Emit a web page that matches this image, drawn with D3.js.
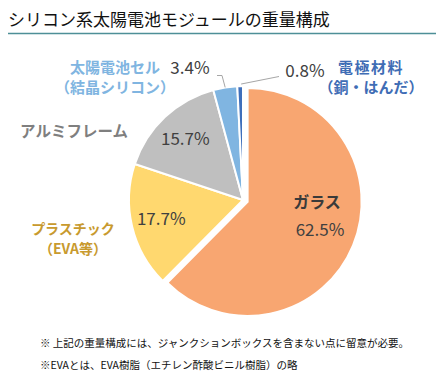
<!DOCTYPE html>
<html>
<head>
<meta charset="utf-8">
<script src="https://cdn.jsdelivr.net/npm/d3@7"></script>
<style>
  html, body { margin: 0; padding: 0; background: #fff; }
  svg { display: block; }
  text { font-family: "Noto Sans CJK JP", "Noto Sans", sans-serif; }
</style>
</head>
<body>
<svg id="chart" width="441" height="378"></svg>
<script>
// 元データ（時計回り、12時から）
const categories = ['ガラス', 'プラスチック（EVA等）', 'アルミフレーム', '太陽電池セル（結晶シリコン）', '電極材料（銅・はんだ）'];
const labelLines = [['ガラス'], ['プラスチック', '（EVA等）'], ['アルミフレーム'], ['太陽電池セル', '（結晶シリコン）'], ['電極材料', '（銅・はんだ）']];
const shares = [62.5, 17.7, 15.7, 3.4, 0.8];
const sliceColors = ['#F8A671', '#FFD86F', '#BFBFBF', '#80B5E1', '#3F6FBB'];
const labelColors = ['#3A3A3A', '#C89A2E', '#7F7F7F', '#80B5E1', '#3F6DB5'];
const notes = [
  '※ 上記の重量構成には、ジャンクションボックスを含まない点に留意が必要。',
  '※EVAとは、EVA樹脂（エチレン酢酸ビニル樹脂）の略'
];

const svg = d3.select('#chart');
const cx = 243, cy = 200, R = 114;

// タイトル + 下線
svg.append('text')
  .attr('x', 8).attr('y', 26)
  .attr('font-size', 17).attr('fill', '#111')
  .text('シリコン系太陽電池モジュールの重量構成');
svg.append('line')
  .attr('x1', 8).attr('x2', 436).attr('y1', 33.5).attr('y2', 33.5)
  .attr('stroke', '#4E8F97').attr('stroke-width', 1.5);

const data = categories.map((c, i) => ({ cat: c, lines: labelLines[i], v: shares[i], i }));
const pie = d3.pie().sort(null).value(d => d.v);
const arcs = pie(data);
const arc = d3.arc().innerRadius(0).outerRadius(R);
const explode = [5, 0, 0, 0, 0];

const g = svg.append('g').attr('transform', `translate(${cx},${cy})`);
g.selectAll('path.slice')
  .data(arcs)
  .join('path')
  .attr('class', 'slice')
  .attr('d', arc)
  .attr('fill', d => sliceColors[d.data.i])
  .attr('stroke', '#fff')
  .attr('stroke-width', 2)
  .attr('stroke-linejoin', 'round')
  .attr('transform', d => {
    const a = (d.startAngle + d.endAngle) / 2, e = explode[d.data.i];
    return `translate(${Math.sin(a) * e},${-Math.cos(a) * e})`;
  });

const pct = v => v.toFixed(1) + '%';
const edge = (d, r) => {
  const a = (d.startAngle + d.endAngle) / 2;
  return [cx + Math.sin(a) * r, cy - Math.cos(a) * r];
};

// 内側ラベル（スライスの重心方向）
[1, 2].forEach(i => {
  const [x, y] = edge(arcs[i], 84);
  svg.append('text').attr('x', x).attr('y', y + 6)
    .attr('text-anchor', 'middle').attr('font-size', 17).attr('fill', '#404040')
    .text(pct(shares[i]));
});

// ガラス
svg.append('text').attr('x', 317).attr('y', 208)
  .attr('text-anchor', 'middle').attr('font-size', 16).attr('font-weight', 'bold')
  .attr('fill', labelColors[0]).text(labelLines[0][0]);
svg.append('text').attr('x', 320).attr('y', 236)
  .attr('text-anchor', 'middle').attr('font-size', 17).attr('fill', '#404040')
  .text(pct(shares[0]));

// カテゴリ名（円の外側）
function catLabel(i, x, y, anchor, size, ls) {
  const t = svg.append('text').attr('text-anchor', anchor)
    .attr('font-size', size).attr('font-weight', 'bold').attr('fill', labelColors[i]);
  labelLines[i].forEach((s, k) => {
    t.append('tspan').attr('x', x).attr('y', y + k * 20)
      .attr('letter-spacing', k === 0 ? ls || 0 : 0).text(s);
  });
}
catLabel(1, 73, 234, 'middle', 14);
catLabel(2, 128, 137, 'end', 15.5);
catLabel(3, 115, 73, 'middle', 15);
catLabel(4, 371, 73, 'middle', 15, 1.5);

// 小さいスライスの値 + 引出線
const leader = svg.append('g').attr('fill', 'none').attr('stroke', '#A6A6A6').attr('stroke-width', 1);
const e3 = edge(arcs[3], R);
leader.append('path').attr('d', `M217,75.5H222L${e3[0]},${e3[1]}`);
svg.append('text').attr('x', 190).attr('y', 74).attr('text-anchor', 'middle')
  .attr('font-size', 17).attr('fill', '#404040').text(pct(shares[3]));

const e4 = edge(arcs[4], R);
leader.append('path').attr('d', `M279,76.5L${e4[0] + 1},${e4[1] - 2}`);
svg.append('text').attr('x', 305).attr('y', 77).attr('text-anchor', 'middle')
  .attr('font-size', 17).attr('fill', '#404040').text(pct(shares[4]));

// 注記
notes.forEach((s, k) => {
  svg.append('text').attr('x', 40).attr('y', 347 + k * 22)
    .attr('font-size', 10.5).attr('fill', '#111').text(s);
});
</script>
</body>
</html>
